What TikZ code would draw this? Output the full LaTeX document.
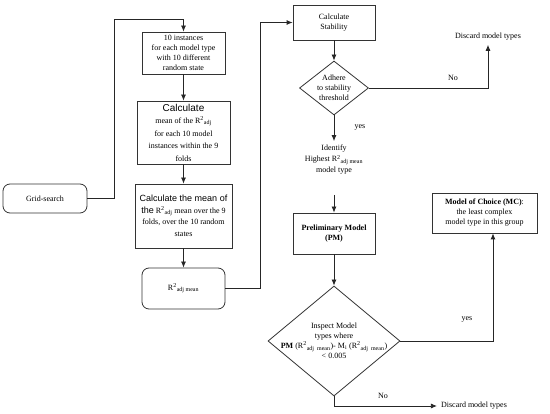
\documentclass[tikz,border=0pt]{standalone}
\usepackage{fontspec}
\setmainfont{Liberation Serif}
\setsansfont{Liberation Sans}
\usetikzlibrary{shapes.geometric,arrows.meta}
\newcommand\Rsq{R\textsuperscript{2}}
\begin{document}
\begin{tikzpicture}[x=1pt, y=-1pt,
	every node/.style={font=\fontsize{8}{10}\selectfont, align=center, inner sep=1pt},
	box/.style={rectangle, draw=black!80, line width=0.8pt},
	rbox/.style={box, rounded corners=7pt},
	decision/.style={diamond, draw=black!80, line width=0.8pt, inner sep=0pt},
	plain/.style={inner sep=4pt},
	lbl/.style={inner sep=0pt},
	arr/.style={draw=black!85, line width=0.8pt, -{Latex[length=6pt,width=5pt]}},
]
\path[fill=white] (0,0) rectangle (550,412);
\node[rbox, minimum width=84pt, minimum height=29pt] (grid) at (45,198.5) {Grid-search};
\node[box, minimum width=83pt, minimum height=42pt] (inst) at (183.5,53) {10 instances\\for each model type\\with 10 different\\random state};
\node[box, minimum width=93pt, minimum height=63pt, font=\fontsize{8}{12.5}\selectfont] (calcmean) at (183.5,132.5)
	{{\sffamily\fontsize{10}{12}\selectfont Calculate}\\mean of the \Rsq\textsubscript{adj}\\for each 10 model\\instances within the 9\\folds};
\node[box, minimum width=97pt, minimum height=64pt, font=\fontsize{8}{11.5}\selectfont] (meanfold) at (183.5,216)
	{{\sffamily\fontsize{9}{11}\selectfont Calculate the mean of}\\{\sffamily\fontsize{9}{11}\selectfont the} \Rsq\textsubscript{adj} mean over the 9\\folds, over the 10 random\\states};
\node[rbox, minimum width=83pt, minimum height=41pt] (radjmean) at (183.5,288.5) {\Rsq\textsubscript{adj mean}};
\node[box, minimum width=82pt, minimum height=35pt] (stab) at (334,22.5) {Calculate\\Stability};
\node[decision, minimum width=69pt, minimum height=54pt, label={center:{Adhere\\to stability\\threshold}}] (adhere) at (334,88) {};
\node[plain] (discard1) at (488,37) {Discard model types};
\node[inner sep=4pt] (identify) at (334,160) {Identify\\[1pt]Highest \Rsq\textsubscript{adj mean}\\[1pt]model type};
\node[box, minimum width=82pt, minimum height=41pt, font=\bfseries\fontsize{8}{10}\selectfont] (pm) at (334,233.5) {Preliminary Model\\(PM)};
\node[decision, minimum width=132pt, minimum height=110pt,
	label={center:{Inspect Model\\types where\\\textbf{PM} (\Rsq\textsubscript{adj\ \ mean})- M\textsubscript{i} (\Rsq\textsubscript{adj\ \ mean})\\< 0.005}}] (inspect) at (334,341) {};
\node[box, minimum width=105pt, minimum height=40pt] (mc) at (484.5,213) {\textbf{Model of Choice (MC)}:\\the least complex\\model type in this group};
\node[plain] (discard2) at (474,406) {Discard model types};
\node[lbl] (no1) at (453,78) {No};
\node[lbl] (yes1) at (360,127) {yes};
\node[lbl] (yes2) at (467,319) {yes};
\node[lbl] (no2) at (383,396) {No};
\coordinate (gridturn) at (114,19);
\coordinate (radjturn) at (260,22.5);
\coordinate (idbottom) at (334,195);
\draw[arr] (grid.east) -| (gridturn) -| (inst.north);
\draw[arr] (inst.south) -- (calcmean.north);
\draw[arr] (calcmean.south) -- (meanfold.north);
\draw[arr] (meanfold.south) -- (radjmean.north);
\draw[arr] (radjmean.east) -| (radjturn) -- (stab.west);
\draw[arr] (stab.south) -- (adhere.north);
\draw[arr] (adhere.east) -| (discard1.south);
\draw[arr] (adhere.south) -- (identify.north);
\draw[arr] (idbottom) -- (pm.north);
\draw[arr] (pm.south) -- (inspect.north);
\draw[arr] (inspect.east) -| ([xshift=8.5pt]mc.south);
\draw[arr] (inspect.south) |- (discard2.west);
\end{tikzpicture}
\end{document}
